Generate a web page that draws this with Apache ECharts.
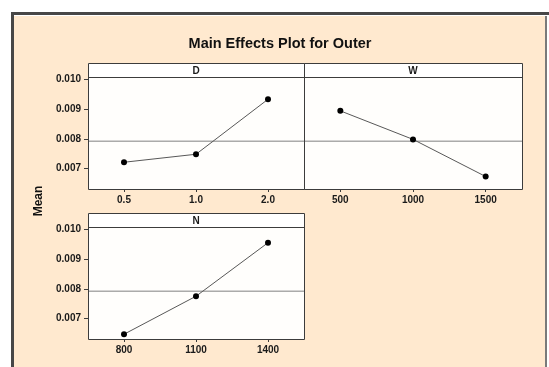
<!DOCTYPE html>
<html>
<head>
<meta charset="utf-8">
<script src="https://cdn.jsdelivr.net/npm/echarts@6/dist/echarts.min.js"></script>
<style>
  html, body { margin: 0; padding: 0; background: #ffffff; width: 549px; height: 367px; overflow: hidden; }
  .blk { position: absolute; }
  #chart { position: absolute; left: 0; top: 0; width: 549px; height: 367px; }
</style>
</head>
<body>
<div class="blk" style="left:14px;top:16px;width:531px;height:351px;background:#FFE9CF;"></div>
<div class="blk" style="left:11px;top:12px;width:538px;height:3px;background:#474747;"></div>
<div class="blk" style="left:11px;top:12px;width:3px;height:355px;background:#474747;"></div>
<div class="blk" style="left:545px;top:16px;width:2px;height:351px;background:#7a7a7a;"></div>
<div id="chart"></div>
<script>
// ---- data ----
const titleText = 'Main Effects Plot for Outer';
const yTitle = 'Mean';
const factorNames = ['D', 'W', 'N'];
const dLevels = ['0.5', '1.0', '2.0'];
const dMeans = [0.00721, 0.00748, 0.00933];
const wLevels = ['500', '1000', '1500'];
const wMeans = [0.00894, 0.00798, 0.00673];
const nLevels = ['800', '1100', '1400'];
const nMeans = [0.00647, 0.00775, 0.00955];
const grandMean = 0.00792;
const yTicks = [0.007, 0.008, 0.009, 0.010];
const yMin = 0.00631, yMax = 0.01008;

// ---- layout ----
const panels = [
  { left: 88, top: 77, width: 216, height: 112, stripTop: 63, showY: true },
  { left: 304, top: 77, width: 218, height: 112, stripTop: 63, showY: false },
  { left: 88, top: 227, width: 216, height: 112, stripTop: 213, showY: true }
];
const levels = [dLevels, wLevels, nLevels];
const means = [dMeans, wMeans, nMeans];
const ink = '#1a1a1a';
const border = '#3c3c3c';
const fontFam = '"Liberation Sans", Arial, sans-serif';

const chart = echarts.init(document.getElementById('chart'), null, { renderer: 'canvas' });

const grid = panels.map(p => ({
  left: p.left, top: p.top, width: p.width, height: p.height,
  show: true, backgroundColor: '#FFFEFC', borderWidth: 0,
  containLabel: false
}));

const xAxis = panels.map((p, i) => ({
  type: 'category', gridIndex: i, data: levels[i], boundaryGap: true,
  axisLine: { show: false },
  axisTick: { show: true, alignWithLabel: true, length: 3, lineStyle: { color: border } },
  axisLabel: { margin: 6, color: ink, fontWeight: 'bold', fontSize: 10, fontFamily: fontFam },
  splitLine: { show: false }
}));
// hidden value axes spanning each panel, for the grand-mean reference line
panels.forEach((p, i) => {
  xAxis.push({ type: 'value', gridIndex: i, min: 0, max: 1, show: false });
});

const yAxis = panels.map((p, i) => ({
  type: 'value', gridIndex: i, min: yMin, max: yMax,
  axisLine: { show: false },
  splitLine: { show: false },
  axisTick: { show: p.showY, customValues: yTicks, length: 4, lineStyle: { color: border } },
  axisLabel: {
    show: p.showY, customValues: yTicks, margin: 7,
    formatter: v => v.toFixed(3),
    color: ink, fontWeight: 'bold', fontSize: 10, fontFamily: fontFam
  }
}));

const series = [];
panels.forEach((p, i) => {
  series.push({
    type: 'line', xAxisIndex: panels.length + i, yAxisIndex: i,
    data: [[0, grandMean], [1, grandMean]],
    symbol: 'none', silent: true, z: 1,
    lineStyle: { color: '#808080', width: 1 },
    animation: false
  });
  series.push({
    type: 'line', xAxisIndex: i, yAxisIndex: i,
    data: means[i],
    symbol: 'circle', symbolSize: 6, z: 3,
    itemStyle: { color: '#000000' },
    lineStyle: { color: '#585858', width: 1 },
    animation: false
  });
});

const graphics = [];
panels.forEach((p, i) => {
  graphics.push({
    type: 'rect', z: 100,
    shape: { x: p.left, y: p.stripTop, width: p.width, height: p.top - p.stripTop },
    style: { fill: '#FFFFFF' }
  });
  graphics.push({
    type: 'rect', z: 102,
    shape: { x: p.left + 0.5, y: p.stripTop + 0.5, width: p.width, height: p.top + p.height - p.stripTop },
    style: { fill: null, stroke: border, lineWidth: 1 }
  });
  graphics.push({
    type: 'line', z: 102,
    shape: { x1: p.left + 0.5, y1: p.top + 0.5, x2: p.left + p.width + 0.5, y2: p.top + 0.5 },
    style: { stroke: border, lineWidth: 1 }
  });
  graphics.push({
    type: 'text', z: 103,
    x: p.left + p.width / 2, y: (p.stripTop + p.top) / 2 + 1,
    style: { text: factorNames[i], fill: ink, font: 'bold 10px ' + fontFam, align: 'center', verticalAlign: 'middle' }
  });
});
graphics.push({
  type: 'text', z: 101, x: 280, y: 44,
  style: { text: titleText, fill: '#111', font: 'bold 14.5px ' + fontFam, align: 'center', verticalAlign: 'middle' }
});
graphics.push({
  type: 'text', z: 101, x: 39, y: 201, rotation: Math.PI / 2,
  style: { text: yTitle, fill: '#111', font: 'bold 12px ' + fontFam, align: 'center', verticalAlign: 'middle' }
});

chart.setOption({
  backgroundColor: 'transparent',
  animation: false,
  grid, xAxis, yAxis, series,
  graphic: graphics
});
</script>
</body>
</html>
